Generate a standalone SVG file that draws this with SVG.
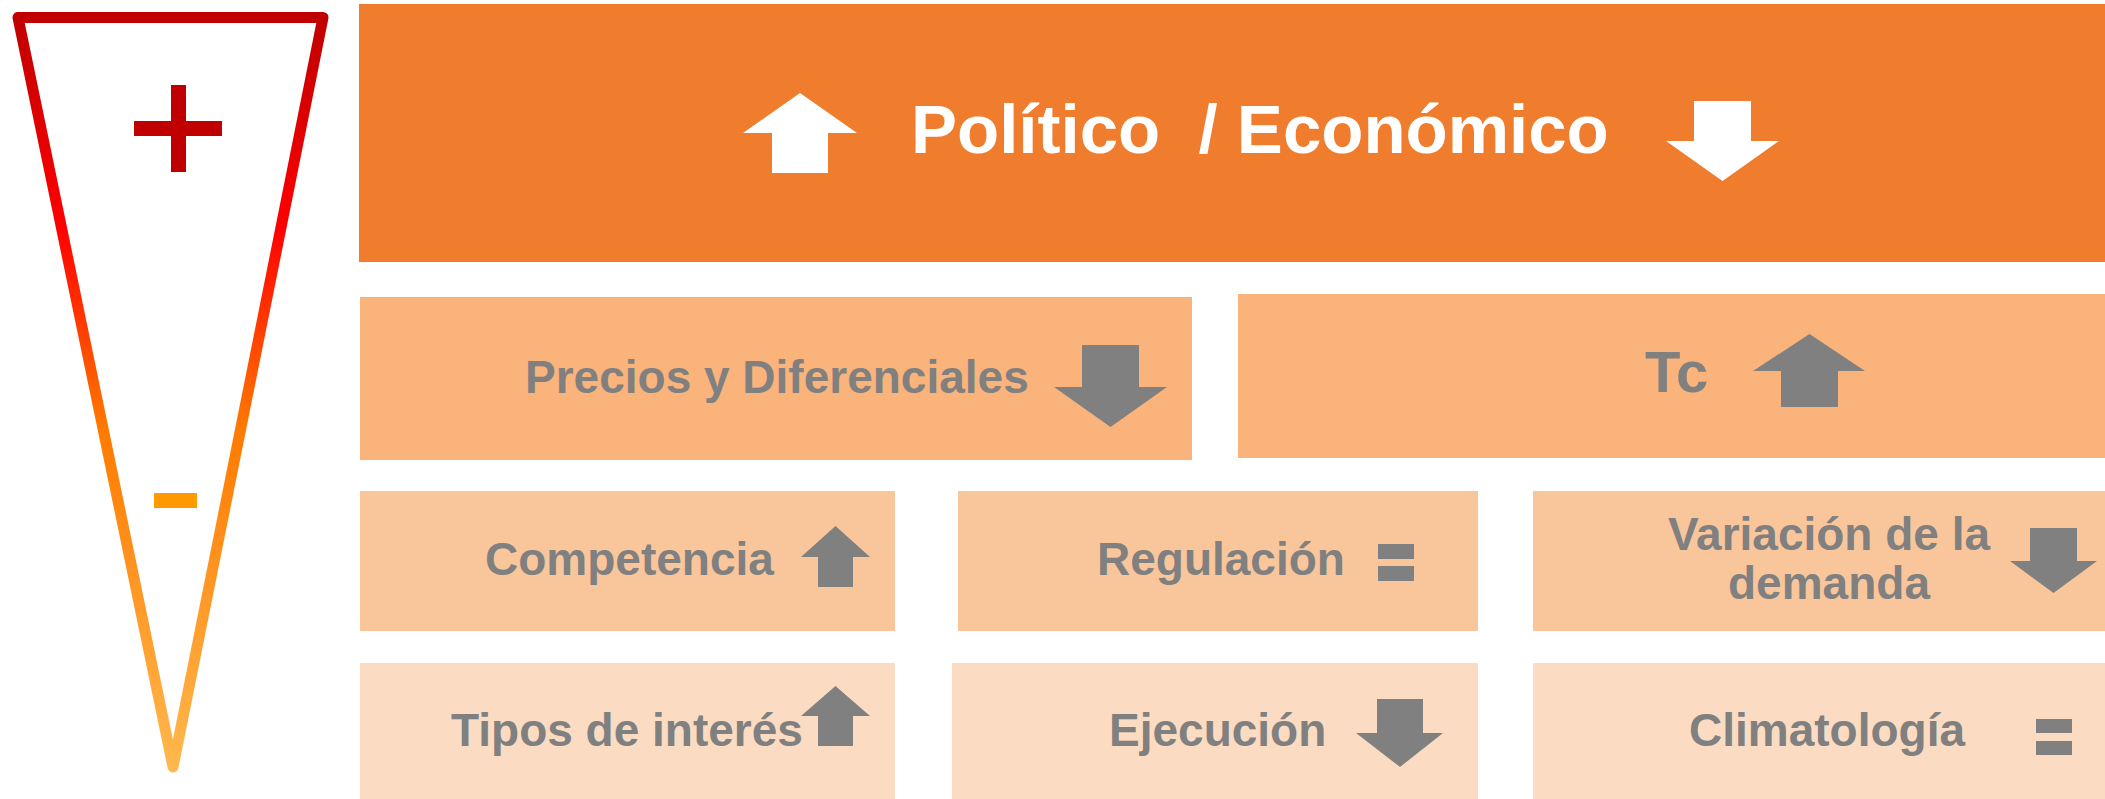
<svg xmlns="http://www.w3.org/2000/svg" width="2105" height="799" viewBox="0 0 2105 799">
<style>
.t{font-family:"Liberation Sans",Arial,sans-serif;font-weight:bold;fill:#808080;font-size:46px}
.tw{font-family:"Liberation Sans",Arial,sans-serif;font-weight:bold;fill:#FFFFFF;font-size:69px}
.g{fill:#808080}
.w{fill:#FFFFFF}
.b1{fill:#F07D2E}
.b2{fill:#F9B37B}
.b3{fill:#F9C69C}
.b4{fill:#FBDCC2}
</style>
<defs>
<linearGradient id="fun" x1="0" y1="0" x2="0" y2="1">
<stop offset="0" stop-color="#C00000"/>
<stop offset="0.28" stop-color="#FF0000"/>
<stop offset="0.55" stop-color="#FF7A00"/>
<stop offset="1" stop-color="#FFB84D"/>
</linearGradient>
</defs>
<g id="funnel">
<path d="M18,17.5 L323,17.5 L173,767 Z" fill="none" stroke="url(#fun)" stroke-width="11" stroke-linejoin="round"/>
<rect x="171" y="85" width="15" height="87" fill="#C00000"/>
<rect x="134" y="121" width="88" height="15" fill="#C00000"/>
<rect x="154" y="493" width="43" height="15" fill="#FF9900"/>
</g>
<g id="politico">
<rect class="b1" x="359" y="4" width="1746" height="258"/>
<path class="w" d="M800,93 L857,133 L828,133 L828,173 L772,173 L772,133 L743,133 Z"/>
<text class="tw" x="911" y="153" xml:space="preserve">Político  / Económico</text>
<path class="w" d="M1694,101 L1751,101 L1751,141 L1779,141 L1722.5,181 L1666,141 L1694,141 Z"/>
</g>
<g id="precios">
<rect class="b2" x="360" y="297" width="832" height="163"/>
<text class="t" x="525" y="393">Precios y Diferenciales</text>
<path class="g" d="M1082,345 L1139,345 L1139,387 L1167,387 L1110.5,427 L1054,387 L1082,387 Z"/>
</g>
<g id="tc">
<rect class="b2" x="1238" y="294" width="867" height="164"/>
<text class="t" x="1645" y="392" style="font-size:58px">Tc</text>
<path class="g" d="M1809.5,334 L1865,371 L1838,371 L1838,407 L1781,407 L1781,371 L1753,371 Z"/>
</g>
<g id="competencia">
<rect class="b3" x="360" y="491" width="535" height="140"/>
<text class="t" x="485" y="575">Competencia</text>
<path class="g" d="M835.5,526 L870,557 L853,557 L853,587 L818,587 L818,557 L801,557 Z"/>
</g>
<g id="regulacion">
<rect class="b3" x="958" y="491" width="520" height="140"/>
<text class="t" x="1097" y="575">Regulación</text>
<rect class="g" x="1378" y="544" width="36" height="15"/>
<rect class="g" x="1378" y="566" width="36" height="15"/>
</g>
<g id="variacion">
<rect class="b3" x="1533" y="491" width="572" height="140"/>
<text class="t" x="1829" y="550" text-anchor="middle">Variación de la</text>
<text class="t" x="1829" y="599" text-anchor="middle">demanda</text>
<path class="g" d="M2030,528 L2077,528 L2077,561 L2097,561 L2053.5,593 L2010,561 L2030,561 Z"/>
</g>
<g id="tipos">
<rect class="b4" x="360" y="663" width="535" height="136"/>
<text class="t" x="451" y="746">Tipos de interés</text>
<path class="g" d="M835.5,686 L870,716 L853,716 L853,746 L818,746 L818,716 L801,716 Z"/>
</g>
<g id="ejecucion">
<rect class="b4" x="952" y="663" width="526" height="136"/>
<text class="t" x="1109" y="746">Ejecución</text>
<path class="g" d="M1377,699 L1423,699 L1423,733 L1443,733 L1400,767 L1356,733 L1377,733 Z"/>
</g>
<g id="climatologia">
<rect class="b4" x="1533" y="663" width="572" height="136"/>
<text class="t" x="1689" y="746">Climatología</text>
<rect class="g" x="2036" y="719" width="36" height="14"/>
<rect class="g" x="2036" y="741" width="36" height="14"/>
</g>
<g id="connectors"/>
</svg>
